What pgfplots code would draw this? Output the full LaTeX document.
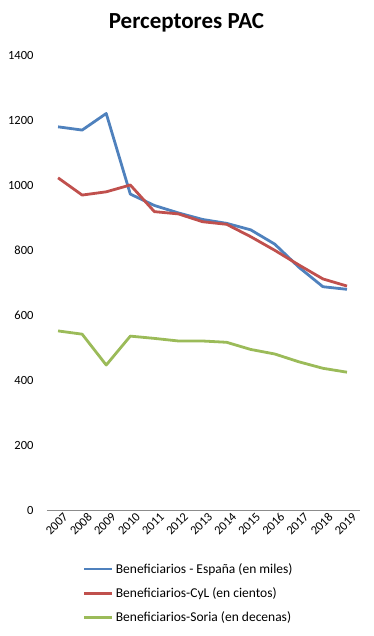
\documentclass[border=0pt]{standalone}
\usepackage{pgfplots}
\pgfplotsset{compat=1.18}
\usepackage{fontspec}
\setmainfont{Carlito}
\definecolor{cblue}{HTML}{4F81BD}
\definecolor{cred}{HTML}{C0504D}
\definecolor{cgreen}{HTML}{9BBB59}
\pgfplotstableread{
year espana cyl soria
2007 1179 1022 551
2008 1169 969 541
2009 1220 979 446
2010 972 1000 535
2011 937 918 528
2012 914 911 520
2013 894 887 520
2014 882 879 516
2015 862 841 494
2016 818 799 480
2017 747 754 456
2018 687 711 436
2019 679 689 424
}\datatable
\begin{document}
\begin{tikzpicture}
\path[use as bounding box] (0pt,0pt) rectangle (373pt,636pt);
\node[font=\fontsize{23}{27}\selectfont\bfseries] at (186.5pt,613pt) {Perceptores PAC};
\begin{axis}[
  at={(47pt,126pt)}, anchor=south west,
  scale only axis, width=313pt, height=455pt,
  xmin=2006.54, xmax=2019.54,
  ymin=0, ymax=1400,
  xtick={2007,...,2019},
  ytick={0,200,...,1400},
  axis x line=bottom, axis y line=left,
  x axis line style={draw=black!45, -, line width=0.8pt},
  y axis line style={draw=none},
  major tick length=0pt,
  tick label style={font=\fontsize{12.5}{14}\selectfont},
  /pgf/number format/assume math mode=true,
  xticklabel={\pgfmathprintnumber[1000 sep={},fixed]{\tick}},
  yticklabel={\pgfmathprintnumber[1000 sep={},fixed]{\tick}},
  xticklabel style={rotate=45, anchor=east, xshift=3pt, yshift=-9pt, inner sep=1pt},
  yticklabel style={anchor=east, xshift=-10pt},
  legend style={at={(0.105,-0.108)}, anchor=north west, draw=none, fill=none,
    font=\fontsize{13.5}{15}\selectfont, row sep=9pt,
    legend cell align=left},
  legend image code/.code={\draw[#1, line width=2.8pt] (0pt,0pt) -- (28pt,0pt);},
  every axis plot/.append style={line width=2.8pt, line join=round},
  clip=false,
]
\addplot[cblue, no markers] table[x=year,y=espana] {\datatable};
\addlegendentry{Beneficiarios - España (en miles)}
\addplot[cred, no markers] table[x=year,y=cyl] {\datatable};
\addlegendentry{Beneficiarios-CyL (en cientos)}
\addplot[cgreen, no markers] table[x=year,y=soria] {\datatable};
\addlegendentry{Beneficiarios-Soria (en decenas)}
\end{axis}
\end{tikzpicture}
\end{document}
